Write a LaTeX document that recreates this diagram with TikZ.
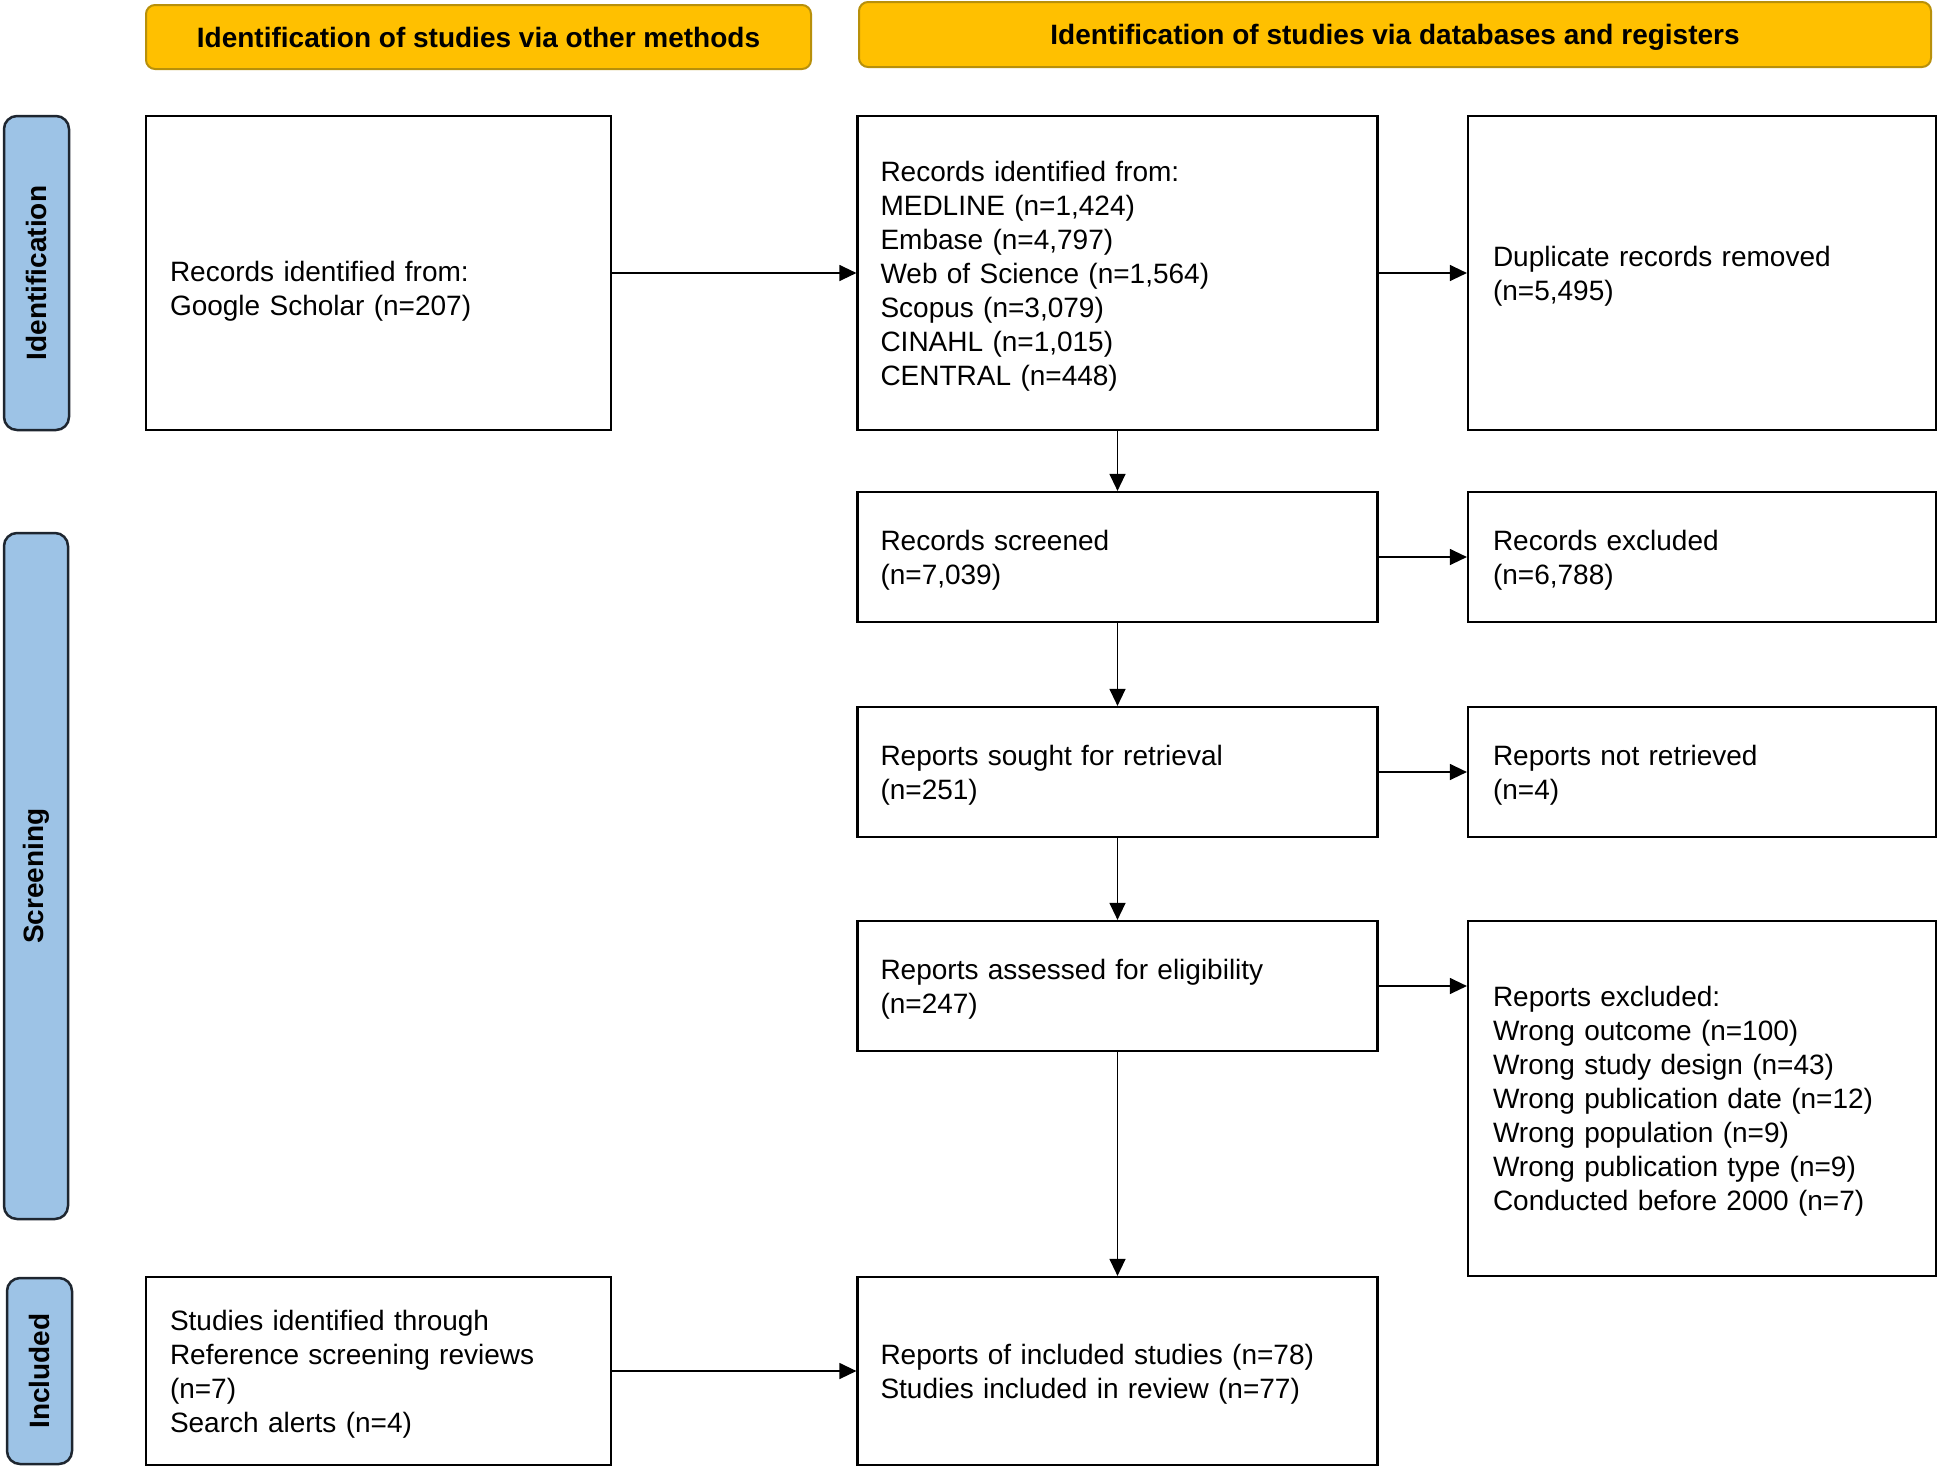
\documentclass[tikz,border=0pt]{standalone}
\usepackage{fontspec}
\setmainfont{Liberation Sans}
\usetikzlibrary{arrows.meta}
\definecolor{hdrfill}{HTML}{FFC000}
\definecolor{hdrline}{HTML}{B8900A}
\definecolor{barfill}{HTML}{9DC3E6}
\definecolor{barline}{HTML}{1E2630}
\newcommand{\tfix}{\rule{0pt}{26.5pt}}
\begin{document}
\begin{tikzpicture}[x=1pt,y=-1pt,
  box/.style={draw=black, line width=2.2pt, fill=white, align=left, anchor=center,
    inner ysep=0pt, font=\fontsize{28}{34}\selectfont},
  colL/.style={box, minimum width=465pt, text width=417pt, inner xsep=24pt},
  colM/.style={box, minimum width=520pt, text width=474pt, inner xsep=23pt},
  colR/.style={box, minimum width=468pt, text width=418pt, inner xsep=25pt},
  hdr/.style={draw=hdrline, fill=hdrfill, line width=2pt, rounded corners=9pt,
    anchor=center, inner sep=0pt, text depth=0pt, font=\fontsize{28}{34}\selectfont\bfseries},
  sidebar/.style={draw=barline, fill=barfill, line width=2.5pt, rounded corners=13pt,
    rotate=90, anchor=center, inner sep=0pt, font=\fontsize{28}{34}\selectfont\bfseries},
  arr/.style={draw=black, line width=1.3pt, -{Triangle[length=17pt,width=16pt]}}
]
\useasboundingbox (0,0) rectangle (1938,1468);

% headers
\node[hdr, minimum width=665pt, minimum height=64pt] (h1) at (478.5,37) {Identification of studies via other methods};
\node[hdr, minimum width=1072pt, minimum height=65pt] (h2) at (1395,34.5) {Identification of studies via databases and registers};

% side bars
\node[sidebar, minimum width=314pt, minimum height=65pt] (s1) at (36.5,273) {Identification};
\node[sidebar, minimum width=686pt, minimum height=64pt] (s2) at (36,876) {Screening};
\node[sidebar, minimum width=186pt, minimum height=65pt] (s3) at (39.5,1371) {Included};

% boxes
\node[colL, minimum height=314pt] (A) at (378.5,273) {\rule{0pt}{57pt}Records identified from:\\Google Scholar (n=207)};
\node[colM, minimum height=314pt] (B) at (1117.5,273) {\tfix Records identified from:\\MEDLINE (n=1,424)\\Embase (n=4,797)\\Web of Science (n=1,564)\\Scopus (n=3,079)\\CINAHL (n=1,015)\\CENTRAL (n=448)};
\node[colR, minimum height=314pt] (C) at (1702,273) {\tfix Duplicate records removed\\(n=5,495)};

\node[colM, minimum height=130pt] (D) at (1117.5,557) {\tfix Records screened\\(n=7,039)};
\node[colR, minimum height=130pt] (E) at (1702,557) {\tfix Records excluded\\(n=6,788)};

\node[colM, minimum height=130pt] (F) at (1117.5,772) {\tfix Reports sought for retrieval\\(n=251)};
\node[colR, minimum height=130pt] (G) at (1702,772) {\tfix Reports not retrieved\\(n=4)};

\node[colM, minimum height=130pt] (H) at (1117.5,986) {\tfix Reports assessed for eligibility\\(n=247)};
\node[colR, minimum height=355pt] (I) at (1702,1098.5) {\tfix Reports excluded:\\Wrong outcome (n=100)\\Wrong study design (n=43)\\Wrong publication date (n=12)\\Wrong population (n=9)\\Wrong publication type (n=9)\\Conducted before 2000 (n=7)};

\node[colL, minimum height=188pt] (J) at (378.5,1371) {\tfix Studies identified through\\Reference screening reviews\\(n=7)\\Search alerts (n=4)};
\node[colM, minimum height=188pt] (K) at (1117.5,1371) {\tfix Reports of included studies (n=78)\\Studies included in review (n=77)};

% connectors
\draw[arr] (A.east) -- (B.west);
\draw[arr] (B.east) -- (C.west);
\draw[arr] (B.south) -- (D.north);
\draw[arr] (D.east) -- (E.west);
\draw[arr] (D.south) -- (F.north);
\draw[arr] (F.east) -- (G.west);
\draw[arr] (F.south) -- (H.north);
\draw[arr] (H.east) -- (H.east -| I.west);
\draw[arr] (H.south) -- (K.north);
\draw[arr] (J.east) -- (K.west);
\end{tikzpicture}
\end{document}
